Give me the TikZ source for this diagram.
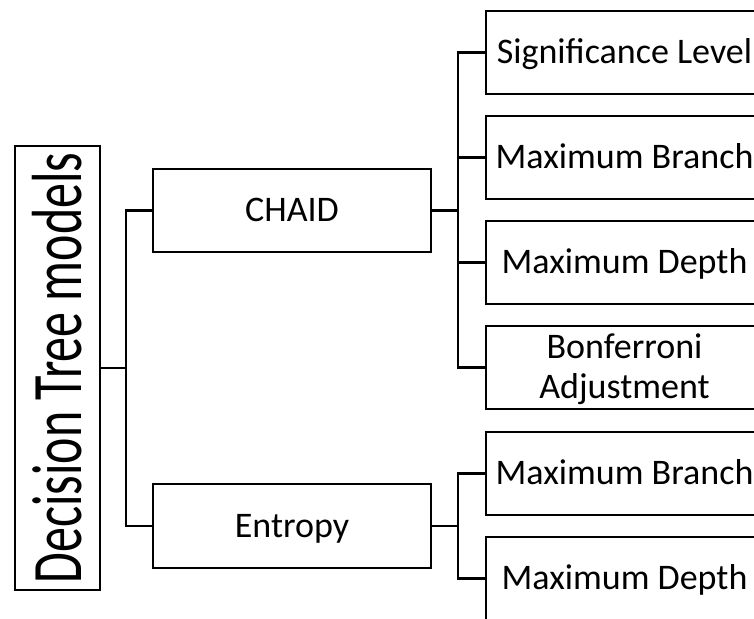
\documentclass[tikz,border=0pt]{standalone}
\usepackage{fontspec}
\setmainfont{Carlito}
\begin{document}
\begin{tikzpicture}[x=1pt,y=-1pt,
  line width=2.8pt,
  box/.style={draw=black, rectangle, inner sep=0pt, align=center,
    font=\fontsize{36}{40}\selectfont, text height=22.7pt, text depth=0pt},
  midbox/.style={box, minimum width=278pt, minimum height=83pt},
  leafbox/.style={box, minimum width=277pt, minimum height=83pt},
  rootbox/.style={draw=black, rectangle, inner sep=0pt,
    minimum width=85pt, minimum height=444pt,
    font=\fontsize{50}{56}\selectfont},
  link/.style={draw=black}]
\useasboundingbox (0,0) rectangle (754,618);
\clip (0,0) rectangle (754,618);
\fill[white] (0,0) rectangle (754,618);

% root of the tree, its label set upright and widened across the box
\node[rootbox] (root) at (57.5,368)
  {\rotatebox{90}{\scalebox{1}[1.42]{Decision Tree models}}};

% the two model families
\node[midbox] (chaid) at (292,210.5) {CHAID};
\node[midbox, minimum height=84pt] (entropy) at (292,526) {Entropy};

% CHAID settings
\node[leafbox] (sig)   at (624.5,52.5)  {Significance Level};
\node[leafbox] (cbr)   at (624.5,157.5) {Maximum Branch};
\node[leafbox] (cdep)  at (624.5,262.5) {Maximum Depth};
\node[leafbox, text height=62.7pt] (bonf) at (624.5,367.5)
  {Bonferroni\\Adjustment};

% Entropy settings
\node[leafbox] (ebr)   at (624.5,473.5) {Maximum Branch};
\node[leafbox] (edep)  at (624.5,578.5) {Maximum Depth};

% junction points of the bracket connectors
\coordinate (j0) at (126,368);
\coordinate (j1) at (458,210.5);
\coordinate (j2) at (458,526);

% root to families
\draw[link] (root.east) -- (j0);
\draw[link] (chaid.west) -| (j0);
\draw[link] (entropy.west) -| (j0);

% CHAID to its settings
\draw[link] (chaid.east) -- (j1);
\foreach \n in {sig,cbr,cdep,bonf}
  \draw[link] (\n.west) -| (j1);

% Entropy to its settings
\draw[link] (entropy.east) -- (j2);
\foreach \n in {ebr,edep}
  \draw[link] (\n.west) -| (j2);
\end{tikzpicture}
\end{document}
